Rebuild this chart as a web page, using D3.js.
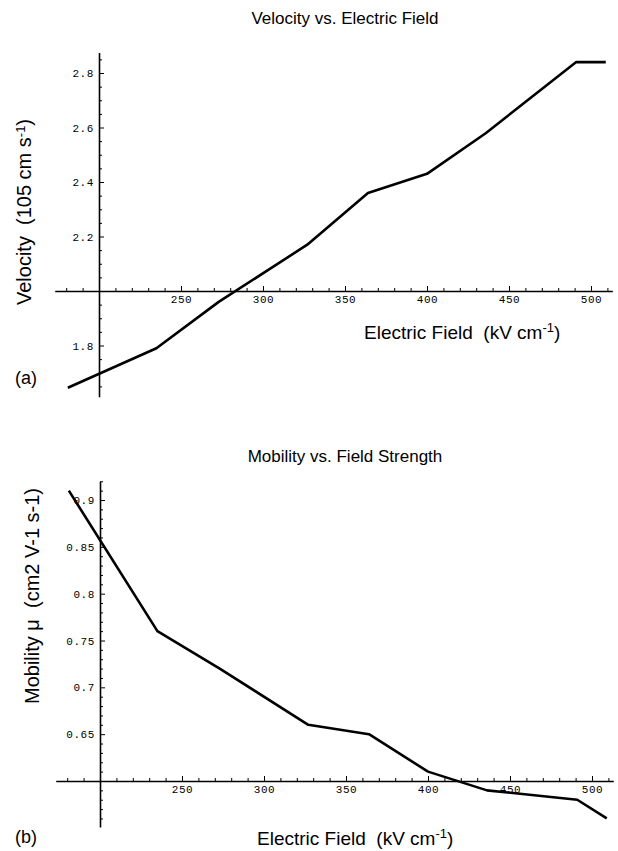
<!DOCTYPE html>
<html>
<head>
<meta charset="utf-8">
<script src="https://cdn.jsdelivr.net/npm/d3@7"></script>
<style>
  body { margin: 0; background: #fff; }
  .title, .axlab, .panel { font-family: "Liberation Sans", Arial, sans-serif; fill: #000; white-space: pre; }
  .tick text { font-family: "Liberation Mono", "Courier New", monospace; font-size: 11px; letter-spacing: 0.6px; fill: #000; }
</style>
</head>
<body>
<div id="chart"></div>
<script>
// field values (kV/cm) where the curves have corners
const fieldKV = [181, 235, 273, 327, 364, 400, 436, 491, 509];
// velocity (10^5 cm/s)
const velocity = [1.645, 1.79, 1.96, 2.17, 2.36, 2.43, 2.58, 2.84, 2.84];
// mobility (cm2/V/s)
const mobility = [0.91, 0.76, 0.72, 0.66, 0.65, 0.61, 0.59, 0.58, 0.56];

const fieldTicks = [250, 300, 350, 400, 450, 500];
const velTicks = [1.8, 2.2, 2.4, 2.6, 2.8];
const mobTicks = [0.65, 0.7, 0.75, 0.8, 0.85, 0.9];

const W = 618, H = 851;

const svg = d3.select("#chart").append("svg")
  .attr("width", W)
  .attr("height", H);

svg.append("rect").attr("width", W).attr("height", H).attr("fill", "#fff");

function minorTicks(lo, hi, step, skip) {
  const out = [];
  for (let v = lo; v <= hi + 1e-9; v += step) {
    const r = Math.round(v / step) * step;
    if (!skip.some(s => Math.abs(s - r) < step / 10)) out.push(+r.toFixed(4));
  }
  return out;
}

function panel(cfg) {
  const g = svg.append("g");

  const x = d3.scaleLinear().domain([200, 500]).range(cfg.xRange);
  const y = d3.scaleLinear().domain(cfg.yDomain).range(cfg.yRange);

  // axis scales span the whole drawn axis line
  const xa = x.copy().domain(cfg.xAxisExt).range(cfg.xAxisExt.map(x));
  const ya = y.copy().domain(cfg.yAxisExt).range(cfg.yAxisExt.map(y));

  const x0 = cfg.yDomain[0];

  // x axis (Mathematica style: ticks point up, crosses at origin)
  const gx = g.append("g").attr("transform", `translate(0,${y(x0)})`);
  gx.call(d3.axisBottom(xa).tickValues(fieldTicks).tickSizeInner(-5).tickSizeOuter(0).tickPadding(4)
      .tickFormat(d3.format("d")));
  gx.append("g").call(d3.axisBottom(xa)
      .tickValues(minorTicks(180, 510, 10, fieldTicks.concat([200])))
      .tickSizeInner(-3).tickSizeOuter(0).tickFormat(""))
    .select(".domain").remove();
  gx.selectAll(".domain").attr("stroke-width", 1.6);
  gx.selectAll("line").attr("stroke-width", 1);

  // y axis at field = 200
  const gy = g.append("g").attr("transform", `translate(${x(200)},0)`);
  gy.call(d3.axisLeft(ya).tickValues(cfg.yTicks).tickSizeInner(-5).tickSizeOuter(0).tickPadding(5)
      .tickFormat(d => String(d)));
  gy.append("g").call(d3.axisLeft(ya)
      .tickValues(minorTicks(cfg.yMinor[0], cfg.yMinor[1], cfg.yMinor[2], cfg.yTicks.concat([x0])))
      .tickSizeInner(-3).tickSizeOuter(0).tickFormat(""))
    .select(".domain").remove();
  gy.selectAll(".domain").attr("stroke-width", 1.6);
  gy.selectAll("line").attr("stroke-width", 1);

  // the curve
  const line = d3.line()
    .x((d, i) => x(fieldKV[i]))
    .y(d => y(d));

  g.append("path")
    .datum(cfg.values)
    .attr("d", line)
    .attr("fill", "none")
    .attr("stroke", "#000")
    .attr("stroke-width", 2.6)
    .attr("stroke-linejoin", "round");

  // title
  g.append("text").attr("class", "title")
    .attr("x", cfg.titlePos[0]).attr("y", cfg.titlePos[1])
    .attr("text-anchor", "middle")
    .style("font-size", "17px")
    .text(cfg.title);

  // x label
  const xl = g.append("text").attr("class", "axlab")
    .attr("x", cfg.xLabPos[0]).attr("y", cfg.xLabPos[1])
    .style("font-size", "19px");
  xl.append("tspan").text("Electric Field  (kV cm");
  xl.append("tspan").attr("dy", -7).style("font-size", "13px").text("-1");
  xl.append("tspan").attr("dy", 7).text(")");

  // y label (rotated)
  const yl = g.append("text").attr("class", "axlab")
    .attr("transform", `translate(${cfg.yLabPos[0]},${cfg.yLabPos[1]}) rotate(-90)`)
    .attr("text-anchor", "middle")
    .style("font-size", "20px");
  cfg.yLabParts.forEach(p => {
    const t = yl.append("tspan").text(p.t);
    if (p.sup) t.attr("dy", -6).style("font-size", "13px");
    if (p.down) t.attr("dy", 6);
  });

  // panel letter
  g.append("text").attr("class", "panel")
    .attr("x", 15).attr("y", cfg.letterY)
    .style("font-size", "18px")
    .text(cfg.letter);
}

panel({
  values: velocity,
  xRange: [99, 591],
  yDomain: [2.0, 2.8],
  yRange: [291, 73],
  xAxisExt: [173, 513],
  yAxisExt: [1.612, 2.875],
  yTicks: velTicks,
  yMinor: [1.65, 2.85, 0.05],
  title: "Velocity vs. Electric Field",
  titlePos: [345, 24],
  xLabPos: [364, 339],
  yLabPos: [31, 212],
  yLabParts: [{t: "Velocity  (105 cm s"}, {t: "-1", sup: true}, {t: ")", down: true}],
  letter: "(a)",
  letterY: 384
});

panel({
  values: mobility,
  xRange: [100, 592],
  yDomain: [0.6, 0.9],
  yRange: [781, 500],
  xAxisExt: [173, 513],
  yAxisExt: [0.551, 0.92],
  yTicks: mobTicks,
  yMinor: [0.56, 0.92, 0.01],
  title: "Mobility vs. Field Strength",
  titlePos: [345, 462],
  xLabPos: [257, 845],
  yLabPos: [39, 596],
  yLabParts: [{t: "Mobility \u03bc  (cm2 V-1 s-1)"}],
  letter: "(b)",
  letterY: 843
});
</script>
</body>
</html>
